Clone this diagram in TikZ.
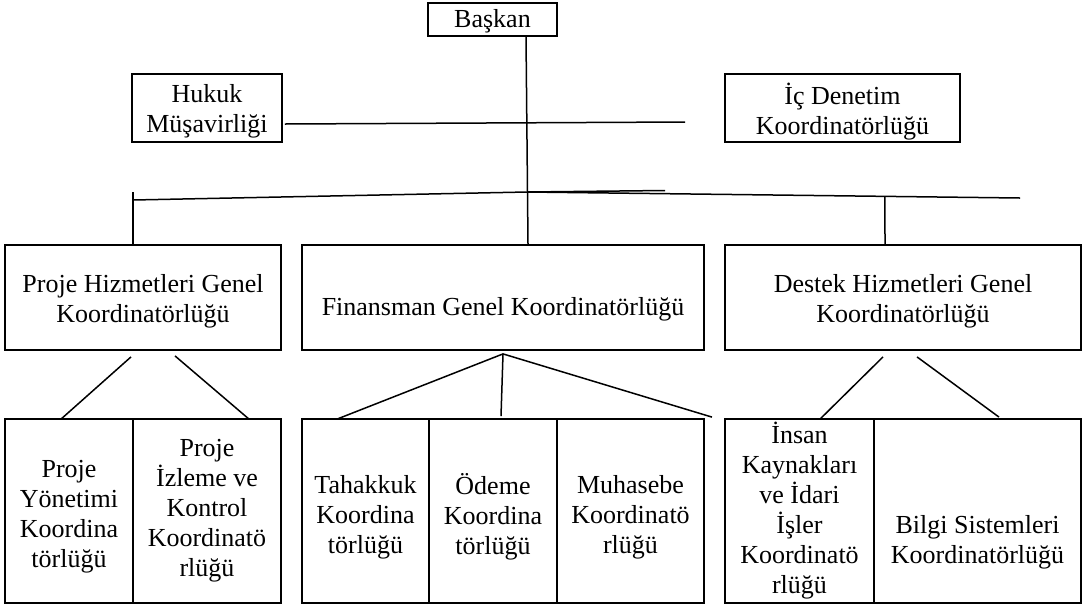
\documentclass[tikz,border=0pt]{standalone}
\usepackage{fontspec}
\setmainfont{Liberation Serif}
\usetikzlibrary{calc,positioning}
\tikzset{
  box/.style={draw, line width=0.9pt, inner sep=0pt, align=center, minimum width=#1},
  unit/.style={box=#1, minimum height=52.5pt},
  cell/.style={box=#1, minimum height=92pt},
  link/.style={line width=0.75pt}
}
\newcommand{\toppad}[1]{\rule{0pt}{#1}}

\begin{document}
\begin{tikzpicture}[x=0.5pt, y=-0.5pt, font=\fontsize{13pt}{15pt}\selectfont]
  \useasboundingbox (0,0) rectangle (1090,606);
  % top
  \node[box=64.5pt, minimum height=16.5pt] (baskan) at (492.5,19.5) {\toppad{11pt}Başkan};
  \node[box=75pt, minimum height=34pt] (hukuk) at (207,108) {\toppad{12pt}Hukuk\\Müşavirliği};
  \node[box=117.5pt, minimum height=34pt] (icdenetim) at (842.5,108) {\toppad{14pt}İç Denetim\\Koordinatörlüğü};
  % general coordinators
  \node[unit=138pt] (phgk) at (143,297.5) {\toppad{13pt}Proje Hizmetleri Genel\\Koordinatörlüğü};
  \node[unit=201pt] (fgk) at (503,297.5) {\toppad{21pt}Finansman Genel Koordinatörlüğü};
  \node[unit=178pt] (dhgk) at (903,297.5) {\toppad{13pt}Destek Hizmetleri Genel\\Koordinatörlüğü};
  % coordinators
  \node[cell=64pt] (pyk) at (69,511) {\toppad{14pt}Proje\\Yönetimi\\Koordina\\törlüğü};
  \node[cell=74pt] (pikk) at (207,511) {Proje\\İzleme ve\\Kontrol\\Koordinatö\\rlüğü};
  \node[cell=63.5pt] (tk) at (365.5,511) {\toppad{15pt}Tahakkuk\\Koordina\\törlüğü};
  \node[cell=64pt] (ok) at (493,511) {\toppad{16pt}Ödeme\\Koordina\\törlüğü};
  \node[cell=73.5pt] (mk) at (630.5,511) {\toppad{15pt}Muhasebe\\Koordinatö\\rlüğü};
  \node[cell=74.5pt] (ik) at (799.5,511) {İnsan\\Kaynakları\\ve İdari\\İşler\\Koordinatö\\rlüğü};
  \node[cell=103.5pt] (bsk) at (977.5,511) {\toppad{40pt}Bilgi Sistemleri\\Koordinatörlüğü};

  % trunk and advisers
  \draw[link] ($(baskan.south)+(33.5,0)$) -- ($(fgk.north)+(25,0)$);
  \coordinate (hukuk-end) at (685,122);
  \draw[link] ($(hukuk.east)+(2,16)$) -- (hukuk-end);
  % cross bar
  \coordinate (bar-l) at (133,200);
  \coordinate (bar-m) at (527,192);
  \coordinate (bar-r) at (1020,198);
  \coordinate (bar-s) at (665,190.5);
  \draw[link] (bar-l) -- (bar-m) -- (bar-r);
  \draw[link] (bar-m) -- (bar-s);
  \draw[link] ($(bar-l)+(0,-8)$) -- ($(phgk.north)+(-10,0)$);
  \draw[link] ($(bar-m)!0.726!(bar-r)$) -- ($(dhgk.north)+(-18,0)$);
  % branches
  \draw[link] ($(phgk.south)+(-12,6)$) -- ($(pyk.north)+(-8,1)$);
  \draw[link] ($(phgk.south)+(32,5)$) -- ($(pikk.north)+(42,1)$);
  \coordinate (fgk-top) at ($(fgk.south)+(0,3)$);
  \coordinate (fgk-end) at ($(mk.north)+(81.5,-1)$);
  \draw[link] (fgk-top) -- ($(tk.north)+(-28.5,1)$);
  \draw[link] (fgk-top) -- ($(ok.north)+(8,-2)$);
  \draw[link] (fgk-top) -- (fgk-end);
  \draw[link] ($(dhgk.south)+(-20,6)$) -- ($(ik.north)+(20.5,1)$);
  \draw[link] ($(dhgk.south)+(14,6)$) -- ($(bsk.north)+(21.5,-1)$);
\end{tikzpicture}
\end{document}
